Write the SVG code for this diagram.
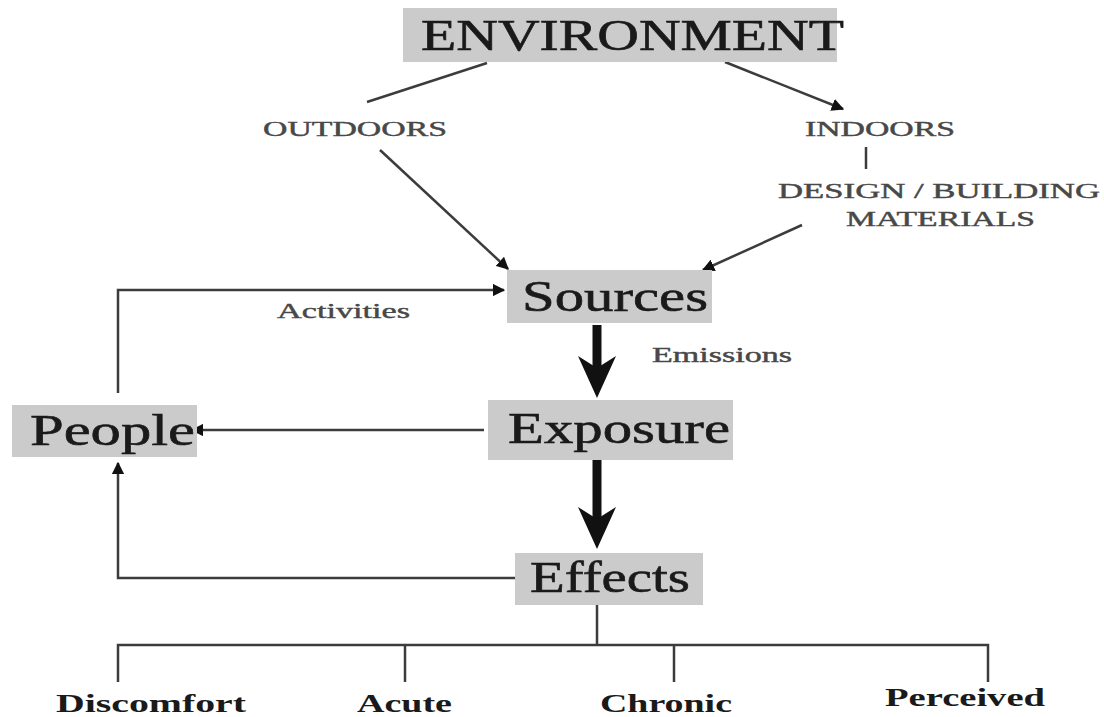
<svg xmlns="http://www.w3.org/2000/svg" width="1104" height="717" viewBox="0 0 1104 717">
<defs>
<style>
.box{fill:#cbcbcb}
.big{font-family:"Liberation Serif","Times New Roman",serif;fill:#1a1a1a;stroke:#1a1a1a;stroke-width:0.6;font-size:44px}
.small{font-family:"Liberation Serif","Times New Roman",serif;fill:#484848;stroke:#484848;stroke-width:0.4;font-size:20px}
.leaf{font-family:"Liberation Serif","Times New Roman",serif;fill:#1a1a1a;font-size:25px;font-weight:bold}
.ln{stroke:#3c3c3c;stroke-width:2.5;fill:none}
.thick{stroke:#111;stroke-width:9;fill:none}
.head{fill:#111}
</style>
<marker id="ah" viewBox="0 0 10 10" refX="9" refY="5" markerWidth="5" markerHeight="5" orient="auto" markerUnits="strokeWidth">
<path d="M0,0 L10,5 L0,10 z" fill="#111"/>
</marker>
</defs>
<rect width="1104" height="717" fill="#ffffff"/>

<g id="connectors">
<line class="ln" x1="487" y1="63" x2="367" y2="102"/>
<line class="ln" x1="725" y1="62" x2="843" y2="109" marker-end="url(#ah)"/>
<line class="ln" x1="866" y1="147" x2="866" y2="169" stroke-width="4"/>
<line class="ln" x1="380" y1="150" x2="508" y2="269" marker-end="url(#ah)"/>
<line class="ln" x1="802" y1="225" x2="703" y2="270" marker-end="url(#ah)"/>
<polyline class="ln" points="118,393 118,290 504,290" marker-end="url(#ah)"/>
<line class="ln" x1="484" y1="430" x2="192" y2="430" marker-end="url(#ah)"/>
<polyline class="ln" points="515,578 118,578 118,463" marker-end="url(#ah)"/>
<line class="thick" x1="597" y1="325" x2="597" y2="370"/>
<polygon class="head" points="578,356 597,368 616,356 597,398"/>
<line class="thick" x1="597" y1="460" x2="597" y2="520"/>
<polygon class="head" points="578,507 597,519 616,507 597,549"/>
<line class="ln" x1="597" y1="605" x2="597" y2="645"/>
<polyline class="ln" points="118,682 118,645 988,645 988,682"/>
<line class="ln" x1="405" y1="645" x2="405" y2="682"/>
<line class="ln" x1="674" y1="645" x2="674" y2="682"/>
</g>

<g id="environment">
<rect class="box" x="403" y="8" width="434" height="54"/>
<text class="big" x="421" y="50" font-size="46" textLength="423" lengthAdjust="spacingAndGlyphs">ENVIRONMENT</text>
</g>
<g id="outdoors">
<text class="small" x="263" y="136" textLength="184" lengthAdjust="spacingAndGlyphs">OUTDOORS</text>
</g>
<g id="indoors">
<text class="small" x="805" y="136" textLength="150" lengthAdjust="spacingAndGlyphs">INDOORS</text>
</g>
<g id="design">
<text class="small" x="778" y="198" textLength="322" lengthAdjust="spacingAndGlyphs">DESIGN / BUILDING</text>
<text class="small" x="846" y="226" textLength="189" lengthAdjust="spacingAndGlyphs">MATERIALS</text>
</g>
<g id="sources">
<rect class="box" x="507" y="270" width="205" height="53"/>
<text class="big" x="522" y="311" textLength="186" lengthAdjust="spacingAndGlyphs">Sources</text>
</g>
<g id="activities">
<text class="small" x="277" y="318" textLength="133" lengthAdjust="spacingAndGlyphs">Activities</text>
</g>
<g id="emissions">
<text class="small" x="652" y="362" textLength="140" lengthAdjust="spacingAndGlyphs">Emissions</text>
</g>
<g id="people">
<rect class="box" x="12" y="405" width="185" height="52"/>
<text class="big" x="30" y="445" textLength="165" lengthAdjust="spacingAndGlyphs">People</text>
</g>
<g id="exposure">
<rect class="box" x="488" y="400" width="245" height="60"/>
<text class="big" x="508" y="443" textLength="222" lengthAdjust="spacingAndGlyphs">Exposure</text>
</g>
<g id="effects">
<rect class="box" x="515" y="553" width="188" height="52"/>
<text class="big" x="530" y="592" textLength="160" lengthAdjust="spacingAndGlyphs">Effects</text>
</g>
<g id="discomfort"><text class="leaf" x="56" y="712" textLength="190" lengthAdjust="spacingAndGlyphs">Discomfort</text></g>
<g id="acute"><text class="leaf" x="357" y="712" textLength="95" lengthAdjust="spacingAndGlyphs">Acute</text></g>
<g id="chronic"><text class="leaf" x="600" y="712" textLength="132" lengthAdjust="spacingAndGlyphs">Chronic</text></g>
<g id="perceived"><text class="leaf" x="885" y="706" textLength="160" lengthAdjust="spacingAndGlyphs">Perceived</text></g>
</svg>
